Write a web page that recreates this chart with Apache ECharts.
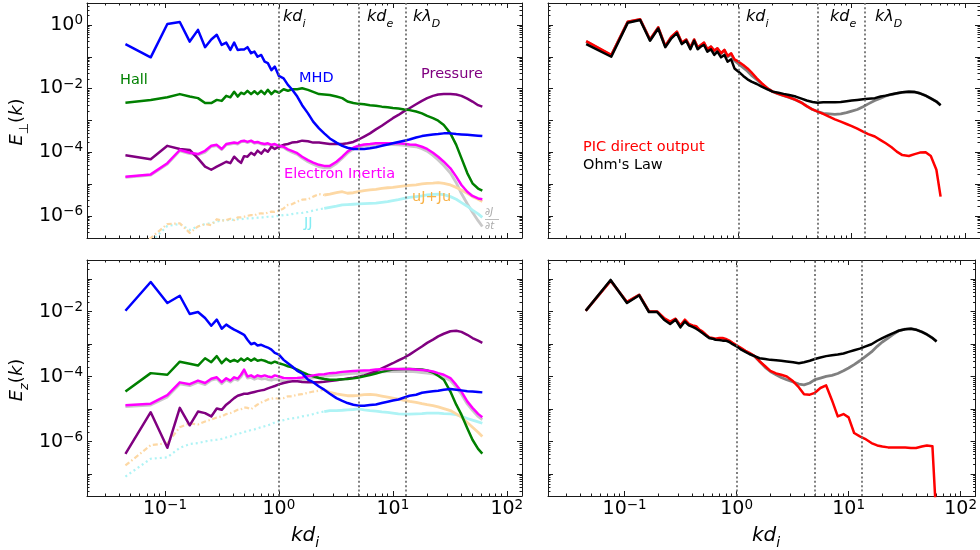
<!DOCTYPE html>
<html><head><meta charset="utf-8">
<script src="https://cdn.jsdelivr.net/npm/echarts@6.0.0/dist/echarts.min.js"></script>
<style>html,body{margin:0;padding:0;background:#fff}#c{width:980px;height:550px}</style>
</head><body><div id="c"></div>
<script>
// ---------- data ----------
const k = [0.045,0.075,0.105,0.135,0.165,0.195,0.225,0.255,0.285,0.315,0.345,0.375,0.405,0.435,0.465,0.495,0.53,0.57,0.61,0.65,0.70,0.75,0.80,0.86,0.92,1.0,1.1,1.2,1.3,1.45,1.6,1.8,2.0,2.25,2.5,2.8,3.2,3.6,4.0,4.5,5.0,5.6,6.3,7.1,8,9,10,11.2,12.6,14,16,18,20,22.5,25,28,32,36,40,45,50,56,61];

// E_perp(k) – top left
const perpMHD = [2.5e-1,9.6e-2,1.07,1.24,3.0e-1,7.0e-1,2.0e-1,3.5e-1,4.9e-1,2.35e-1,2.8e-1,1.64e-1,2.8e-1,1.64e-1,1.7e-1,1.7e-1,2.0e-1,1.29e-1,1.45e-1,1.0e-1,1.14e-1,7.0e-2,6.3e-2,3.8e-2,4.9e-2,2.5e-2,2.1e-2,1.3e-2,9.5e-3,5.6e-3,3.0e-3,1.66e-3,9.1e-4,5.6e-4,3.9e-4,2.7e-4,2.0e-4,1.58e-4,1.38e-4,1.26e-4,1.25e-4,1.26e-4,1.32e-4,1.42e-4,1.58e-4,1.73e-4,1.9e-4,2.1e-4,2.3e-4,2.5e-4,2.9e-4,3.2e-4,3.4e-4,3.6e-4,3.7e-4,3.9e-4,3.9e-4,3.7e-4,3.6e-4,3.5e-4,3.4e-4,3.3e-4,3.2e-4];
const perpHall = [3.6e-3,4.4e-3,5.3e-3,6.7e-3,5.6e-3,5.0e-3,3.5e-3,3.5e-3,4.4e-3,4.1e-3,5.9e-3,5.3e-3,7.9e-3,5.6e-3,7.4e-3,6.7e-3,8.5e-3,6.7e-3,8.2e-3,6.7e-3,8.5e-3,6.7e-3,9.1e-3,6.7e-3,8.5e-3,7.4e-3,9.5e-3,8.5e-3,9.5e-3,9.5e-3,1.02e-2,9.1e-3,7.9e-3,6.7e-3,6.5e-3,6.3e-3,5.6e-3,5.0e-3,3.9e-3,3.5e-3,3.3e-3,3.2e-3,3.0e-3,2.9e-3,2.7e-3,2.6e-3,2.45e-3,2.35e-3,2.2e-3,2.1e-3,1.9e-3,1.66e-3,1.38e-3,1.17e-3,9.8e-4,7.2e-4,3.9e-4,1.7e-4,6.5e-5,2.2e-5,1.05e-5,7.2e-6,6.2e-6];
const perpPress = [8.0e-5,6.0e-5,1.58e-4,1.26e-4,1.17e-4,6.4e-5,3.5e-5,2.8e-5,3.5e-5,4.2e-5,5.0e-5,4.5e-5,7.2e-5,5.6e-5,4.6e-5,7.5e-5,7.2e-5,9.6e-5,8.1e-5,1.12e-4,9.0e-5,1.22e-4,1.03e-4,1.48e-4,1.26e-4,1.48e-4,1.7e-4,1.8e-4,2.0e-4,2.1e-4,2.3e-4,2.2e-4,2.0e-4,2.0e-4,1.9e-4,1.8e-4,1.8e-4,1.8e-4,1.9e-4,2.1e-4,2.5e-4,3.1e-4,3.9e-4,5.2e-4,6.8e-4,9.1e-4,1.17e-3,1.48e-3,1.95e-3,2.4e-3,3.2e-3,4.1e-3,5.0e-3,5.9e-3,6.5e-3,6.7e-3,6.7e-3,6.5e-3,5.9e-3,4.8e-3,3.9e-3,3.0e-3,2.7e-3];
const perpEI = [1.7e-5,2.0e-5,4.5e-5,1.17e-4,9.6e-5,8.7e-5,1.1e-4,1.58e-4,1.7e-4,1.26e-4,1.8e-4,1.9e-4,2.0e-4,1.9e-4,2.2e-4,2.3e-4,2.1e-4,2.3e-4,2.0e-4,2.1e-4,1.9e-4,1.8e-4,1.9e-4,1.7e-4,1.8e-4,1.58e-4,1.48e-4,1.23e-4,1.1e-4,9.3e-5,7.2e-5,5.6e-5,4.7e-5,4.0e-5,3.7e-5,3.7e-5,5.0e-5,7.2e-5,1.04e-4,1.38e-4,1.6e-4,1.75e-4,1.8e-4,1.9e-4,1.9e-4,1.9e-4,1.9e-4,1.9e-4,1.85e-4,1.75e-4,1.7e-4,1.48e-4,1.26e-4,9.6e-5,7.2e-5,5.0e-5,3.1e-5,1.7e-5,9.3e-6,5.7e-6,4.2e-6,3.5e-6,3.3e-6];
const perpDJdt = [1.6e-5,1.9e-5,4.2e-5,1.1e-4,9.0e-5,8.2e-5,1.0e-4,1.5e-4,1.6e-4,1.2e-4,1.7e-4,1.8e-4,1.9e-4,1.8e-4,2.1e-4,2.2e-4,2.0e-4,2.2e-4,1.9e-4,2.0e-4,1.8e-4,1.7e-4,1.8e-4,1.6e-4,1.7e-4,1.5e-4,1.4e-4,1.15e-4,1.0e-4,8.5e-5,6.5e-5,5.0e-5,4.2e-5,3.5e-5,3.2e-5,3.2e-5,4.4e-5,6.4e-5,9.3e-5,1.25e-4,1.45e-4,1.6e-4,1.65e-4,1.72e-4,1.72e-4,1.72e-4,1.72e-4,1.7e-4,1.65e-4,1.55e-4,1.48e-4,1.28e-4,1.07e-4,7.9e-5,5.7e-5,3.8e-5,2.2e-5,1.1e-5,5.0e-6,2.4e-6,1.3e-6,7.0e-7,4.6e-7];
const perpUJ = [3e-8,2e-7,5.5e-7,5.8e-7,2.9e-7,4.6e-7,5.5e-7,5.1e-7,7.8e-7,7.0e-7,7.3e-7,8.1e-7,7.3e-7,8.9e-7,8.9e-7,9.3e-7,1.0e-6,1.05e-6,1.03e-6,1.15e-6,1.2e-6,1.15e-6,1.26e-6,1.35e-6,1.33e-6,1.45e-6,1.7e-6,2.2e-6,2.3e-6,2.8e-6,3.2e-6,3.3e-6,4.0e-6,4.8e-6,4.5e-6,4.8e-6,5.3e-6,5.7e-6,5.1e-6,5.3e-6,5.7e-6,6.2e-6,6.5e-6,6.8e-6,7.3e-6,7.6e-6,7.8e-6,8.3e-6,8.7e-6,9.0e-6,9.4e-6,1.0e-5,1.05e-5,1.07e-5,1.1e-5,1.05e-5,9.3e-6,7.8e-6,6.5e-6,5.1e-6,4.0e-6,3.3e-6,2.8e-6];
const perpJJ = [3e-8,1.5e-7,4.8e-7,5.5e-7,3.6e-7,4.6e-7,5.5e-7,5.8e-7,6.5e-7,7.3e-7,7.0e-7,7.8e-7,7.3e-7,7.8e-7,7.8e-7,8.1e-7,8.3e-7,8.3e-7,8.5e-7,8.7e-7,8.9e-7,8.9e-7,9.3e-7,9.3e-7,9.5e-7,1.0e-6,1.05e-6,1.07e-6,1.13e-6,1.2e-6,1.23e-6,1.33e-6,1.45e-6,1.6e-6,1.7e-6,1.85e-6,2.0e-6,2.2e-6,2.25e-6,2.3e-6,2.35e-6,2.4e-6,2.45e-6,2.5e-6,2.65e-6,2.8e-6,3.0e-6,3.2e-6,3.5e-6,3.8e-6,4.0e-6,4.2e-6,4.5e-6,4.7e-6,4.8e-6,4.6e-6,4.0e-6,3.3e-6,2.6e-6,2.0e-6,1.5e-6,1.15e-6,8.9e-7];

// E_z(k) – bottom left
const zMHD = [1.07e-2,8.2e-2,1.85e-2,3.1e-2,8.5e-3,9.8e-3,6.4e-3,3.7e-3,5.7e-3,3.0e-3,4.0e-3,3.3e-3,2.8e-3,2.5e-3,2.2e-3,1.95e-3,1.38e-3,1.0e-3,1.09e-3,9.1e-4,9.6e-4,8.6e-4,7.9e-4,6.8e-4,5.4e-4,4.8e-4,3.3e-4,2.6e-4,2.1e-4,1.52e-4,1.26e-4,8.1e-5,6.8e-5,5.0e-5,4.0e-5,3.0e-5,2.2e-5,1.8e-5,1.55e-5,1.38e-5,1.29e-5,1.29e-5,1.35e-5,1.4e-5,1.55e-5,1.7e-5,1.85e-5,2.0e-5,2.3e-5,2.6e-5,2.8e-5,3.2e-5,3.4e-5,3.6e-5,3.7e-5,4.0e-5,4.2e-5,4.0e-5,3.8e-5,3.6e-5,3.5e-5,3.4e-5,3.3e-5];
const zHall = [3.5e-5,1.29e-4,1.15e-4,2.9e-4,2.5e-4,2.2e-4,3.7e-4,2.8e-4,4.3e-4,2.6e-4,3.6e-4,2.9e-4,3.3e-4,2.9e-4,3.6e-4,3.1e-4,3.7e-4,3.1e-4,3.6e-4,3.1e-4,3.3e-4,3.1e-4,2.8e-4,2.6e-4,2.9e-4,2.6e-4,2.35e-4,2.1e-4,1.94e-4,1.66e-4,1.39e-4,1.15e-4,1.03e-4,9.1e-5,8.5e-5,8.1e-5,8.1e-5,8.3e-5,8.5e-5,8.9e-5,9.5e-5,1.03e-4,1.12e-4,1.26e-4,1.41e-4,1.55e-4,1.66e-4,1.7e-4,1.72e-4,1.72e-4,1.7e-4,1.66e-4,1.55e-4,1.35e-4,1.07e-4,8.1e-5,3.5e-5,1.38e-5,6.8e-6,2.6e-6,1.15e-6,6.0e-7,4.3e-7];
const zPress = [4.2e-7,8.1e-6,6.5e-7,1.1e-5,3.2e-6,8.5e-6,7.6e-6,6.0e-6,1.05e-5,9.6e-6,1.38e-5,1.74e-5,2.2e-5,2.6e-5,2.8e-5,3.0e-5,3.0e-5,3.2e-5,3.4e-5,3.6e-5,3.8e-5,4.0e-5,4.4e-5,4.8e-5,5.2e-5,5.8e-5,6.4e-5,6.9e-5,7.2e-5,7.2e-5,6.9e-5,6.8e-5,6.8e-5,6.8e-5,7.0e-5,7.4e-5,7.8e-5,8.3e-5,8.9e-5,9.3e-5,1.0e-4,1.1e-4,1.26e-4,1.45e-4,1.82e-4,2.2e-4,2.6e-4,3.2e-4,3.9e-4,4.8e-4,6.5e-4,8.5e-4,1.1e-3,1.38e-3,1.74e-3,2.1e-3,2.5e-3,2.6e-3,2.4e-3,1.95e-3,1.55e-3,1.29e-3,1.1e-3];
const zEI = [1.32e-5,1.48e-5,2.7e-5,6.7e-5,5.9e-5,7.6e-5,6.4e-5,8.7e-5,9.6e-5,6.8e-5,9.0e-5,7.6e-5,9.6e-5,8.7e-5,1.15e-4,1.66e-4,1.02e-4,1.1e-4,9.6e-5,1.1e-4,1.02e-4,1.1e-4,1.02e-4,9.6e-5,1.1e-4,1.02e-4,9.1e-5,9.0e-5,9.0e-5,9.1e-5,9.5e-5,1.03e-4,1.1e-4,1.17e-4,1.2e-4,1.29e-4,1.33e-4,1.41e-4,1.45e-4,1.5e-4,1.52e-4,1.55e-4,1.58e-4,1.66e-4,1.7e-4,1.72e-4,1.72e-4,1.72e-4,1.72e-4,1.72e-4,1.66e-4,1.6e-4,1.55e-4,1.45e-4,1.29e-4,1.15e-4,9.1e-5,5.6e-5,3.5e-5,1.74e-5,1.1e-5,7.2e-6,5.7e-6];
const zDJdt = [1.2e-5,1.35e-5,2.4e-5,6.0e-5,5.3e-5,6.8e-5,5.7e-5,7.8e-5,8.6e-5,6.1e-5,8.1e-5,6.8e-5,8.6e-5,7.8e-5,1.0e-4,1.45e-4,9.0e-5,9.5e-5,8.3e-5,9.2e-5,8.5e-5,8.8e-5,8.2e-5,7.8e-5,8.5e-5,8.0e-5,7.3e-5,7.2e-5,7.3e-5,7.5e-5,7.9e-5,8.6e-5,9.2e-5,9.8e-5,1.02e-4,1.08e-4,1.12e-4,1.18e-4,1.22e-4,1.26e-4,1.28e-4,1.3e-4,1.33e-4,1.38e-4,1.42e-4,1.44e-4,1.45e-4,1.45e-4,1.45e-4,1.45e-4,1.4e-4,1.35e-4,1.3e-4,1.22e-4,1.1e-4,9.6e-5,7.6e-5,4.7e-5,2.9e-5,1.45e-5,9.2e-6,6.0e-6,4.8e-6];
const zUJ = [1.86e-7,7.8e-7,9.1e-7,2.8e-6,3.7e-6,3.4e-6,4.2e-6,4.8e-6,5.6e-6,6.0e-6,7.1e-6,7.6e-6,8.5e-6,9.6e-6,1.0e-5,1.14e-5,1.1e-5,1.0e-5,1.2e-5,1.4e-5,1.6e-5,1.8e-5,2.0e-5,2.1e-5,2.2e-5,2.1e-5,2.2e-5,2.5e-5,2.5e-5,2.8e-5,2.9e-5,3.2e-5,3.5e-5,3.7e-5,4.0e-5,3.3e-5,2.95e-5,2.75e-5,2.6e-5,2.6e-5,2.65e-5,2.8e-5,2.85e-5,2.75e-5,2.55e-5,2.35e-5,2.2e-5,2.05e-5,1.86e-5,1.74e-5,1.62e-5,1.48e-5,1.38e-5,1.29e-5,1.18e-5,1.05e-5,9.1e-6,7.2e-6,5.7e-6,3.9e-6,2.8e-6,1.95e-6,1.45e-6];
const zJJ = [8.5e-8,3.0e-7,3.3e-7,6.5e-7,8.5e-7,9.1e-7,1.02e-6,1.1e-6,1.15e-6,1.23e-6,1.35e-6,1.45e-6,1.66e-6,1.75e-6,1.86e-6,2.0e-6,2.1e-6,2.3e-6,2.4e-6,2.6e-6,2.8e-6,3.0e-6,3.2e-6,3.5e-6,3.9e-6,4.3e-6,4.6e-6,5.0e-6,5.2e-6,5.5e-6,6.0e-6,6.5e-6,7.1e-6,8.0e-6,8.5e-6,9.1e-6,9.1e-6,9.3e-6,9.6e-6,9.8e-6,1.02e-5,9.6e-6,9.1e-6,8.8e-6,8.3e-6,8.0e-6,7.6e-6,7.2e-6,7.1e-6,7.1e-6,7.2e-6,7.3e-6,7.6e-6,7.6e-6,7.6e-6,7.3e-6,7.2e-6,6.8e-6,6.0e-6,5.2e-6,4.6e-6,4.1e-6,3.7e-6];

// right panels
const perpPIC = [3.1e-1,1.14e-1,1.27,1.5,3.5e-1,8.4e-1,2.2e-1,4.3e-1,6.2e-1,2.8e-1,3.5e-1,1.94e-1,3.5e-1,2.0e-1,2.35e-1,2.8e-1,1.72e-1,2.1e-1,1.56e-1,1.85e-1,1.29e-1,1.64e-1,1.06e-1,1.29e-1,8.3e-2,7.0e-2,5.5e-2,4.3e-2,3.2e-2,2.1e-2,1.47e-2,1.02e-2,8.0e-3,6.8e-3,6.0e-3,5.3e-3,4.4e-3,3.6e-3,2.8e-3,2.2e-3,1.88e-3,1.6e-3,1.3e-3,1.07e-3,9.1e-4,7.7e-4,6.6e-4,5.5e-4,4.4e-4,3.7e-4,3.1e-4,2.4e-4,1.9e-4,1.42e-4,1.04e-4,8.1e-5,7.6e-5,8.7e-5,9.7e-5,1.0e-4,7.6e-5,2.8e-5,4.0e-6];
const perpOhm = [2.5e-1,1.0e-1,1.18,1.44,3.2e-1,7.7e-1,2.0e-1,3.8e-1,5.5e-1,2.5e-1,3.2e-1,1.72e-1,3.2e-1,1.72e-1,2.1e-1,2.35e-1,1.45e-1,1.72e-1,1.14e-1,1.45e-1,9.6e-2,1.14e-1,7.0e-2,8.3e-2,4.3e-2,3.4e-2,2.5e-2,1.95e-2,1.65e-2,1.39e-2,1.15e-2,9.5e-3,8.0e-3,7.4e-3,6.8e-3,6.3e-3,5.6e-3,4.8e-3,4.2e-3,3.8e-3,3.6e-3,3.7e-3,3.7e-3,3.7e-3,3.8e-3,4.0e-3,4.2e-3,4.4e-3,4.6e-3,4.8e-3,5.0e-3,5.6e-3,6.0e-3,6.6e-3,7.1e-3,7.6e-3,8.0e-3,7.8e-3,7.1e-3,6.0e-3,4.9e-3,3.9e-3,3.0e-3];
const perpPart = [3.0e-1,1.1e-1,1.25,1.48,3.4e-1,8.2e-1,2.15e-1,4.2e-1,6.0e-1,2.7e-1,3.4e-1,1.9e-1,3.4e-1,1.95e-1,2.3e-1,2.7e-1,1.7e-1,2.05e-1,1.5e-1,1.8e-1,1.25e-1,1.6e-1,1.0e-1,1.2e-1,7.5e-2,6.0e-2,4.5e-2,3.5e-2,2.6e-2,1.9e-2,1.4e-2,1.0e-2,8.0e-3,6.8e-3,6.0e-3,5.3e-3,4.4e-3,3.6e-3,2.8e-3,2.2e-3,1.9e-3,1.66e-3,1.6e-3,1.55e-3,1.6e-3,1.74e-3,1.94e-3,2.2e-3,2.7e-3,3.3e-3,4.2e-3,5.0e-3,5.9e-3,6.5e-3,7.0e-3,7.6e-3,8.0e-3,7.8e-3,7.1e-3,6.0e-3,4.9e-3,3.9e-3,3.0e-3];
const zPIC = [1.07e-2,8.9e-2,2.0e-2,3.3e-2,1.02e-2,1.02e-2,6.4e-3,5.0e-3,6.1e-3,3.8e-3,5.7e-3,4.2e-3,3.8e-3,3.6e-3,2.8e-3,2.5e-3,2.0e-3,1.62e-3,1.55e-3,1.48e-3,1.55e-3,1.55e-3,1.45e-3,1.29e-3,1.1e-3,9.2e-4,7.6e-4,6.3e-4,5.4e-4,4.3e-4,3.0e-4,2.1e-4,1.52e-4,1.26e-4,1.15e-4,1.02e-4,7.2e-5,4.7e-5,2.9e-5,2.8e-5,3.2e-5,4.5e-5,5.4e-5,1.9e-5,6.0e-6,7.1e-6,5.6e-6,1.86e-6,1.46e-6,1.23e-6,9.1e-7,7.7e-7,7.1e-7,6.7e-7,6.7e-7,6.7e-7,6.6e-7,6.4e-7,6.4e-7,7.1e-7,7.7e-7,7.3e-7,3e-9];
const zOhm = [1.07e-2,9.5e-2,1.85e-2,3.2e-2,9.8e-3,9.8e-3,5.7e-3,4.2e-3,5.7e-3,3.3e-3,5.0e-3,3.8e-3,3.4e-3,3.0e-3,2.6e-3,2.2e-3,1.87e-3,1.55e-3,1.48e-3,1.37e-3,1.34e-3,1.29e-3,1.29e-3,1.17e-3,1.0e-3,8.6e-4,6.8e-4,5.8e-4,5.0e-4,4.3e-4,3.7e-4,3.5e-4,3.3e-4,3.2e-4,3.1e-4,2.95e-4,2.8e-4,2.6e-4,2.8e-4,3.1e-4,3.5e-4,3.9e-4,4.3e-4,4.6e-4,4.8e-4,5.2e-4,5.8e-4,6.5e-4,7.3e-4,8.4e-4,1.0e-3,1.28e-3,1.55e-3,1.87e-3,2.2e-3,2.6e-3,2.9e-3,3.0e-3,2.8e-3,2.4e-3,2.0e-3,1.55e-3,1.22e-3];
const zPart = [1.07e-2,9.0e-2,1.95e-2,3.25e-2,1.0e-2,1.0e-2,6.0e-3,4.6e-3,5.9e-3,3.6e-3,5.3e-3,4.0e-3,3.6e-3,3.3e-3,2.7e-3,2.35e-3,1.9e-3,1.58e-3,1.5e-3,1.42e-3,1.45e-3,1.42e-3,1.37e-3,1.23e-3,1.05e-3,8.9e-4,7.2e-4,6.0e-4,5.2e-4,4.2e-4,3.0e-4,1.94e-4,1.45e-4,1.15e-4,9.5e-5,8.1e-5,6.9e-5,5.9e-5,5.6e-5,6.4e-5,8.1e-5,9.1e-5,1.02e-4,1.1e-4,1.26e-4,1.52e-4,1.85e-4,2.35e-4,3.1e-4,4.1e-4,5.8e-4,8.6e-4,1.17e-3,1.55e-3,2.0e-3,2.6e-3,2.9e-3,3.0e-3,2.8e-3,2.4e-3,2.0e-3,1.55e-3,1.22e-3];

// scale markers and ticks
const scaleK = [1, 5, 13];
const xTickLabelVals = [0.1, 1, 10, 100];
const xMajorVals = [0.1, 1, 10, 100];
const yLabelVals = [1e-6, 1e-4, 1e-2, 1e0];
const yMajorVals = [1e-9,1e-8,1e-7,1e-6,1e-5,1e-4,1e-3,1e-2,1e-1,1e0,1e1];

// ---------- layout / style ----------
const FONT = 'DejaVu Sans';
const X_MIN = 0.0207, X_MAX = 136;
const Y_TOP = [2.0e-7, 4.9];
const Y_BOT = [2.14e-8, 0.39];
const AX = '#1a1a1a';
const LW = 2.5;

const minorVals = [];
for (let n = -9; n <= 2; n++) for (let m = 2; m <= 9; m++) minorVals.push(parseFloat((m * Math.pow(10, n)).toPrecision(3)));
const inR = (a, lo, hi) => a.filter(v => v >= lo * 1.0001 && v <= hi / 1.0001);

const powRich = {
  b: {fontFamily: FONT, fontSize: 19, lineHeight: 23, color: '#000'},
  s: {fontFamily: FONT, fontSize: 13.5, lineHeight: 13, verticalAlign: 'top', color: '#000'}
};
function powFmt(v) {
  const e = Math.round(Math.log10(v));
  return '{b|10}{s|' + (e < 0 ? '\u2212' + (-e) : '' + e) + '}';
}

function xAx(g, pos, minor, labels) {
  return {
    type: 'log', logBase: 10, gridIndex: g, position: pos, min: X_MIN, max: X_MAX,
    axisLine: {show: !minor, onZero: false, lineStyle: {color: AX, width: 1}},
    axisTick: {show: true, inside: true, length: minor ? 2.5 : 5,
      customValues: inR(minor ? minorVals : xMajorVals, X_MIN, X_MAX), lineStyle: {color: AX, width: 1}},
    axisLabel: {show: labels, customValues: xTickLabelVals, margin: 2, formatter: powFmt, rich: powRich},
    splitLine: {show: false}, minorTick: {show: false}, minorSplitLine: {show: false}
  };
}
function yAx(g, pos, minor, labels, rng) {
  return {
    type: 'log', logBase: 10, gridIndex: g, position: pos, min: rng[0], max: rng[1],
    axisLine: {show: !minor, onZero: false, lineStyle: {color: AX, width: 1}},
    axisTick: {show: true, inside: true, length: minor ? 2.5 : 5,
      customValues: inR(minor ? minorVals : yMajorVals, rng[0], rng[1]), lineStyle: {color: AX, width: 1}},
    axisLabel: {show: labels, customValues: inR(yLabelVals, rng[0], rng[1]), margin: 4, formatter: powFmt, rich: powRich},
    splitLine: {show: false}, minorTick: {show: false}, minorSplitLine: {show: false}
  };
}

const grids = [
  {left: 87, top: 3, width: 435, height: 235},
  {left: 87, top: 260, width: 435, height: 236},
  {left: 548, top: 3, width: 435, height: 235},
  {left: 548, top: 260, width: 435, height: 236}
];
const yR = [Y_TOP, Y_BOT, Y_TOP, Y_BOT];
const xAxes = [], yAxes = [];
for (let g = 0; g < 4; g++) {
  const bottomRow = (g === 1 || g === 3), leftCol = (g < 2);
  xAxes.push(xAx(g, 'bottom', false, bottomRow), xAx(g, 'bottom', true, false), xAx(g, 'top', false, false), xAx(g, 'top', true, false));
  yAxes.push(yAx(g, 'left', false, leftCol, yR[g]), yAx(g, 'left', true, false, yR[g]), yAx(g, 'right', false, false, yR[g]), yAx(g, 'right', true, false, yR[g]));
}

function pts(arr, i0, i1) {
  const a = i0 || 0, b = (i1 === undefined) ? k.length - 1 : i1;
  const out = [];
  for (let i = a; i <= b; i++) out.push([k[i], arr[i]]);
  return out;
}
function ln(g, data, color, width, type, extra) {
  return Object.assign({
    type: 'line', xAxisIndex: 4 * g, yAxisIndex: 4 * g, data: data,
    showSymbol: false, symbol: 'none', silent: true, clip: true, animation: false,
    lineStyle: {color: color, width: width, type: type || 'solid', cap: 'butt', join: 'round'},
    itemStyle: {color: color}
  }, extra || {});
}
function vlines() {
  return {markLine: {silent: true, symbol: ['none', 'none'], animation: false,
    label: {show: false}, lineStyle: {color: '#6a6a6a', type: [2, 2.4], width: 1.7},
    data: scaleK.map(v => ({xAxis: v}))}};
}
const SPLIT = 34; // k = 2.5 : dashes merge into a solid band beyond this
const ORANGE = '#fdd8a4', CYAN = '#aef3f5', LGRAY = '#c9c9c9';

const series = [
  // top left
  ln(0, pts(perpDJdt), LGRAY, 2.8, 'solid', vlines()),
  ln(0, pts(perpJJ, 0, SPLIT), CYAN, 2.2, [2, 3]),
  ln(0, pts(perpJJ, SPLIT), CYAN, 2.8),
  ln(0, pts(perpUJ, 0, SPLIT), ORANGE, 2.2, [5, 2.5, 1.5, 2.5]),
  ln(0, pts(perpUJ, SPLIT), ORANGE, 2.8),
  ln(0, pts(perpPress), '#800080', LW),
  ln(0, pts(perpEI), '#ff00ff', LW),
  ln(0, pts(perpHall), '#008000', LW),
  ln(0, pts(perpMHD), '#0000ff', LW),
  // bottom left
  ln(1, pts(zDJdt), LGRAY, 2.8, 'solid', vlines()),
  ln(1, pts(zJJ, 0, SPLIT), CYAN, 2.2, [2, 3]),
  ln(1, pts(zJJ, SPLIT), CYAN, 2.8),
  ln(1, pts(zUJ, 0, SPLIT), ORANGE, 2.2, [5, 2.5, 1.5, 2.5]),
  ln(1, pts(zUJ, SPLIT), ORANGE, 2.8),
  ln(1, pts(zPress), '#800080', LW),
  ln(1, pts(zHall), '#008000', LW),
  ln(1, pts(zEI), '#ff00ff', LW),
  ln(1, pts(zMHD), '#0000ff', LW),
  // top right
  ln(2, pts(perpPart), '#808080', 2.8, 'solid', vlines()),
  ln(2, pts(perpPIC), '#ff0000', LW),
  ln(2, pts(perpOhm), '#000000', LW),
  // bottom right
  ln(3, pts(zPart), '#808080', 2.8, 'solid', vlines()),
  ln(3, pts(zPIC), '#ff0000', LW),
  ln(3, pts(zOhm), '#000000', LW)
];

// ---------- text annotations ----------
function txt(x, y, s, color) {
  return {type: 'text', x: x, y: y, silent: true, z: 100,
    style: {text: s, fill: color, fontFamily: FONT, fontSize: 14.5,
      align: 'left', verticalAlign: 'middle', textAlign: 'left', textVerticalAlign: 'middle'}};
}
const mathRich = (fs) => ({
  m: {fontFamily: FONT, fontStyle: 'italic', fontSize: fs, lineHeight: fs + 5, verticalAlign: 'top', fill: '#000', color: '#000'},
  n: {fontFamily: FONT, fontSize: fs, lineHeight: fs + 5, verticalAlign: 'top', fill: '#000', color: '#000'},
  sb: {fontFamily: FONT, fontStyle: 'italic', fontSize: Math.round(fs * 0.7), lineHeight: Math.round(fs * 0.6), verticalAlign: 'bottom', fill: '#000', color: '#000'},
  su: {fontFamily: FONT, fontSize: Math.round(fs * 0.7), lineHeight: Math.round(fs * 0.6), verticalAlign: 'bottom', fill: '#000', color: '#000'}
});
function mathTxt(x, y, s, fs, align, rot) {
  return {type: 'text', x: x, y: y, rotation: rot || 0, silent: true, z: 100,
    style: {text: s, rich: mathRich(fs), fill: '#000', align: align || 'left', verticalAlign: 'middle',
      textAlign: align || 'left', textVerticalAlign: 'middle'}};
}
const scaleTexts = ['{m|kd}{sb|i}', '{m|kd}{sb|e}', '{m|k\u03bb}{sb|D}'];
const graphic = [
  txt(120, 80, 'Hall', '#008000'),
  txt(299, 78, 'MHD', '#0000ff'),
  txt(421, 74, 'Pressure', '#800080'),
  txt(284, 174, 'Electron Inertia', '#ff00ff'),
  txt(412, 197, 'uJ+Ju', '#f8b349'),
  txt(304, 223, 'JJ', '#84ecf3'),
  {type: 'text', x: 485, y: 212, silent: true, z: 100, style: {text: '\u2202J', fill: '#ababab', fontFamily: FONT, fontStyle: 'italic', fontSize: 10, align: 'left', verticalAlign: 'middle', textAlign: 'left', textVerticalAlign: 'middle'}},
  {type: 'line', silent: true, z: 100, shape: {x1: 485, y1: 219.5, x2: 499, y2: 219.5}, style: {stroke: '#ababab', lineWidth: 0.8}},
  {type: 'text', x: 485, y: 226, silent: true, z: 100, style: {text: '\u2202t', fill: '#ababab', fontFamily: FONT, fontStyle: 'italic', fontSize: 10, align: 'left', verticalAlign: 'middle', textAlign: 'left', textVerticalAlign: 'middle'}},
  txt(583, 147, 'PIC direct output', '#ff0000'),
  txt(583, 165, "Ohm's Law", '#000000'),
  mathTxt(283, 19, scaleTexts[0], 16),
  mathTxt(367, 19, scaleTexts[1], 16),
  mathTxt(413, 19, scaleTexts[2], 16),
  mathTxt(746, 19, scaleTexts[0], 16),
  mathTxt(830, 19, scaleTexts[1], 16),
  mathTxt(875, 19, scaleTexts[2], 16),
  mathTxt(20, 122, '{m|E}{su|\u22a5}{n|(}{m|k}{n|)}', 18, 'center', Math.PI / 2),
  mathTxt(20, 380, '{m|E}{sb|z}{n|(}{m|k}{n|)}', 18, 'center', Math.PI / 2),
  mathTxt(305, 538, '{m|kd}{sb|i}', 20, 'center'),
  mathTxt(766, 538, '{m|kd}{sb|i}', 20, 'center')
];

const chart = echarts.init(document.getElementById('c'), null, {renderer: 'canvas', width: 980, height: 550});
chart.setOption({
  animation: false, backgroundColor: '#ffffff',
  grid: grids, xAxis: xAxes, yAxis: yAxes, series: series, graphic: graphic
});
</script></body></html>
